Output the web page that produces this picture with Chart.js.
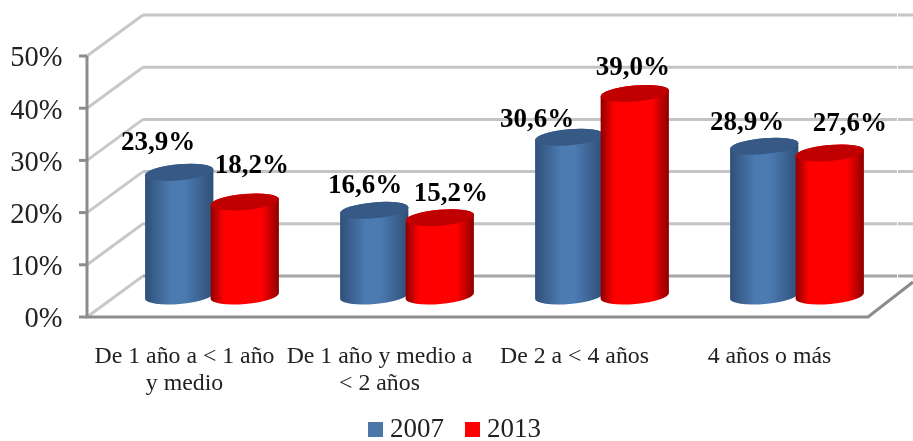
<!DOCTYPE html>
<html>
<head>
<meta charset="utf-8">
<script src="https://cdn.jsdelivr.net/npm/chart.js@4"></script>
<style>
  html, body { margin: 0; padding: 0; background: #fff; }
  canvas { display: block; }
</style>
</head>
<body>
<canvas id="chart" width="913" height="441"></canvas>
<script>
const categories = [['De 1 año a < 1 año', 'y medio'], ['De 1 año y medio a', '< 2 años'], 'De 2 a < 4 años', '4 años o más'];
const values2007 = [23.9, 16.6, 30.6, 28.9];
const values2013 = [18.2, 15.2, 39.0, 27.6];
const yTicks = [0, 10, 20, 30, 40, 50];

const SERIF = '"Liberation Serif", serif';

// the bars stand on a plane between the front axis and the back wall
const FRONT = { dx: -27.5, dy: 20 };
const BACK = { dx: 28.5, dy: -21 };

const looks = [
  { edge: '#2f4f78', mid: '#4c7bb2', cap: '#365a85', from: 0.38, to: 0.58 },
  { edge: '#8c0000', mid: '#ff0000', cap: '#c00000', from: 0.2, to: 0.75 },
];

// hand placement of the value labels, [dataset][category]
const labelNudge = [
  [[-21, -29], [-9, -24], [-32, -17], [-17, -23]],
  [[7, -36], [11, -24], [-2, -25], [20, -29]],
];

const wall3d = {
  id: 'wall3d',
  beforeDatasetsDraw(chart) {
    const { ctx, chartArea, scales } = chart;
    const xf = chartArea.left + FRONT.dx;
    const xb = chartArea.left + BACK.dx;
    const xEnd = chart.width;
    ctx.save();
    ctx.lineWidth = 3;
    yTicks.forEach((v) => {
      const y = scales.y.getPixelForValue(v);
      ctx.strokeStyle = '#c8c8c8';
      ctx.beginPath();
      ctx.moveTo(xf, y + FRONT.dy);
      ctx.lineTo(xb, y + BACK.dy);
      ctx.stroke();
      ctx.strokeStyle = v === 0 ? '#a6a6a6' : '#c4c4c4';
      ctx.beginPath();
      ctx.moveTo(xb, y + BACK.dy);
      ctx.lineTo(xEnd, y + BACK.dy);
      ctx.stroke();
      // tick mark
      ctx.strokeStyle = '#8c8c8c';
      ctx.beginPath();
      ctx.moveTo(xf - 8, y + FRONT.dy);
      ctx.lineTo(xf, y + FRONT.dy);
      ctx.stroke();
    });
    ctx.fillStyle = '#fff';
    ctx.fillRect(897, 0, 1, chartArea.bottom + BACK.dy + 3);

    // front axis and floor edge
    const y0 = scales.y.getPixelForValue(0) + FRONT.dy;
    const y50 = scales.y.getPixelForValue(50) + FRONT.dy;
    ctx.strokeStyle = '#8c8c8c';
    ctx.beginPath();
    ctx.moveTo(xf, y50);
    ctx.lineTo(xf, y0);
    ctx.lineTo(868, y0);
    ctx.lineTo(xEnd, y0 - 35);
    ctx.stroke();

    // cylinders, 2013 over 2007
    const tilt = -5 * Math.PI / 180;
    const ry = 8;
    chart.data.datasets.forEach((ds, i) => {
      const look = looks[i];
      chart.getDatasetMeta(i).data.forEach((bar) => {
        const rx = bar.width / 2;
        const grad = ctx.createLinearGradient(bar.x - rx, 0, bar.x + rx, 0);
        grad.addColorStop(0, look.edge);
        grad.addColorStop(look.from, look.mid);
        grad.addColorStop(look.to, look.mid);
        grad.addColorStop(1, look.edge);
        ctx.fillStyle = grad;
        ctx.beginPath();
        ctx.ellipse(bar.x, bar.base - 1, rx, ry, tilt, 0, Math.PI);
        ctx.ellipse(bar.x, bar.y, rx, ry, tilt, Math.PI, 2 * Math.PI);
        ctx.closePath();
        ctx.fill();
        ctx.fillStyle = look.cap;
        ctx.beginPath();
        ctx.ellipse(bar.x, bar.y, rx, ry, tilt, 0, 2 * Math.PI);
        ctx.fill();
      });
    });
    ctx.restore();
  },
  beforeDatasetDraw() {
    return false; // cylinders replace the flat bars
  },
  afterDatasetsDraw(chart) {
    const { ctx } = chart;
    ctx.save();
    ctx.font = 'bold 27px ' + SERIF;
    ctx.fillStyle = '#000';
    ctx.textAlign = 'center';
    ctx.textBaseline = 'middle';
    chart.data.datasets.forEach((ds, i) => {
      chart.getDatasetMeta(i).data.forEach((bar, j) => {
        const nudge = labelNudge[i][j];
        const text = ds.data[j].toFixed(1).replace('.', ',') + '%';
        ctx.fillText(text, bar.x + nudge[0], bar.y + nudge[1]);
      });
    });

    // legend, the built in one leaves too wide a gap after the box
    ctx.font = '27px ' + SERIF;
    ctx.textAlign = 'left';
    chart.data.datasets.forEach((ds, i) => {
      const x = 368 + i * 97;
      ctx.fillStyle = ds.backgroundColor;
      ctx.fillRect(x, 422, 15, 15);
      ctx.fillStyle = '#222';
      ctx.fillText(ds.label, x + 22, 430);
    });
    ctx.restore();
  },
};

new Chart(document.getElementById('chart'), {
  type: 'bar',
  plugins: [wall3d],
  data: {
    labels: categories,
    datasets: [
      { label: '2007', data: values2007, backgroundColor: '#4a76a8' },
      { label: '2013', data: values2013, backgroundColor: '#ff0000' },
    ],
  },
  options: {
    responsive: false,
    animation: false,
    devicePixelRatio: 1,
    layout: { padding: { top: 36, right: 18.5, left: 0, bottom: 0 } },
    categoryPercentage: 0.672,
    barPercentage: 1.046,
    plugins: {
      tooltip: { enabled: false },
      legend: { display: false },
    },
    scales: {
      x: {
        afterFit: (axis) => {
          axis.height = 144;
          axis.paddingLeft = 0;
          axis.paddingRight = 0;
        },
        grid: { display: false },
        border: { display: false },
        ticks: {
          maxRotation: 0,
          autoSkip: false,
          labelOffset: FRONT.dx,
          padding: 38,
          color: '#222',
          font: { family: SERIF, size: 23.8, lineHeight: 1.13 },
        },
      },
      y: {
        min: 0,
        max: 50,
        afterFit: (axis) => {
          axis.width = 114.5;
          axis.paddingTop = 0;
          axis.paddingBottom = 0;
        },
        afterBuildTicks: (axis) => { axis.ticks = yTicks.map((value) => ({ value })); },
        grid: { display: false, drawTicks: false },
        border: { display: false },
        ticks: {
          labelOffset: FRONT.dy + 3,
          padding: 52,
          color: '#222',
          font: { family: SERIF, size: 28.5 },
          callback: (v) => v + '%',
        },
      },
    },
  },
});
</script>
</body>
</html>
